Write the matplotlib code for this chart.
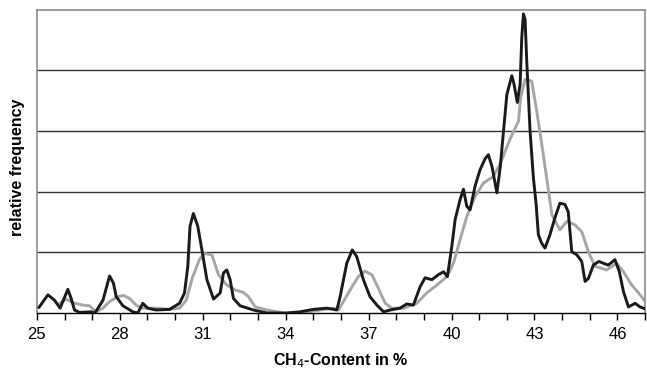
import numpy as np
import matplotlib.pyplot as plt

plt.rcParams['font.family'] = ['Liberation Sans', 'DejaVu Sans']

# black curve
black_x = [25.07, 25.4, 25.64, 25.84, 26.12, 26.24, 26.36, 26.54, 26.96, 27.1,
           27.39, 27.63, 27.77, 27.87, 28.11, 28.47, 28.65, 28.83, 29.01, 29.31,
           29.8, 30.16, 30.34, 30.46, 30.54, 30.66, 30.82, 30.97, 31.15, 31.39,
           31.63, 31.75, 31.87, 31.99, 32.11, 32.35, 32.83, 33.32, 34.04, 34.52,
           35.0, 35.49, 35.85, 35.97, 36.21, 36.41, 36.57, 36.81, 37.05, 37.3,
           37.54, 37.78, 38.14, 38.38, 38.62, 38.86, 39.04, 39.29, 39.52, 39.71,
           39.85, 40.01, 40.13, 40.31, 40.43, 40.55, 40.67, 40.85, 41.03, 41.21,
           41.33, 41.46, 41.64, 41.76, 41.88, 42.0, 42.18, 42.26, 42.38, 42.48,
           42.54, 42.6, 42.66, 42.72, 42.84, 42.96, 43.06, 43.14, 43.26, 43.38,
           43.56, 43.74, 43.92, 44.1, 44.22, 44.35, 44.53, 44.71, 44.83, 44.95,
           45.13, 45.33, 45.49, 45.67, 45.91, 46.07, 46.22, 46.4, 46.64, 46.82,
           47.0]
black_y = [0.09, 0.30, 0.21, 0.08, 0.39, 0.24, 0.05, 0.01, 0.02, 0.0,
           0.21, 0.61, 0.49, 0.27, 0.12, 0.02, 0.0, 0.16, 0.08, 0.05,
           0.06, 0.16, 0.33, 0.77, 1.43, 1.64, 1.43, 1.04, 0.55, 0.23,
           0.33, 0.66, 0.71, 0.55, 0.24, 0.12, 0.05, 0.0, 0.0, 0.02,
           0.06, 0.08, 0.05, 0.27, 0.82, 1.04, 0.93, 0.55, 0.27, 0.13,
           0.02, 0.05, 0.08, 0.15, 0.13, 0.43, 0.58, 0.55, 0.63, 0.68,
           0.60, 1.10, 1.54, 1.87, 2.04, 1.76, 1.70, 2.09, 2.36, 2.54,
           2.61, 2.42, 1.98, 2.40, 3.0, 3.60, 3.91, 3.77, 3.47, 3.77,
           4.54, 4.93, 4.84, 4.15, 3.0, 2.23, 1.79, 1.29, 1.15, 1.07,
           1.29, 1.57, 1.81, 1.79, 1.67, 1.01, 0.96, 0.85, 0.52, 0.57,
           0.79, 0.85, 0.82, 0.79, 0.88, 0.68, 0.35, 0.10, 0.16, 0.10,
           0.07]

# grey curve
grey_x = [25.82, 26.06, 26.3, 26.66, 26.9, 27.14, 27.39, 27.63, 27.93, 28.13,
          28.35, 28.59, 28.83, 29.31, 29.8, 30.16, 30.4, 30.64, 30.88, 31.06,
          31.33, 31.57, 31.87, 32.17, 32.47, 32.65, 32.9, 33.32, 33.92, 34.52,
          35.25, 35.73, 35.91, 36.33, 36.63, 36.87, 37.12, 37.35, 37.6, 37.84,
          38.14, 38.26, 38.74, 39.1, 39.47, 39.83, 40.07, 40.31, 40.55, 40.85,
          41.15, 41.51, 41.76, 42.12, 42.42, 42.5, 42.66, 42.9, 43.08, 43.32,
          43.63, 43.92, 44.17, 44.47, 44.71, 44.95, 45.19, 45.61, 45.97, 46.22,
          46.52, 46.82, 47.0]
grey_y = [0.16, 0.23, 0.17, 0.13, 0.12, 0.02, 0.08, 0.19, 0.27, 0.29,
          0.24, 0.13, 0.08, 0.08, 0.06, 0.08, 0.21, 0.60, 0.88, 0.98,
          0.96, 0.63, 0.46, 0.38, 0.34, 0.27, 0.10, 0.05, 0.0, 0.0,
          0.05, 0.08, 0.05, 0.38, 0.60, 0.69, 0.63, 0.41, 0.16, 0.08,
          0.08, 0.08, 0.16, 0.33, 0.46, 0.60, 0.82, 1.21, 1.59, 1.92,
          2.14, 2.25, 2.46, 2.87, 3.16, 3.55, 3.85, 3.82, 3.33, 2.61,
          1.62, 1.37, 1.51, 1.45, 1.34, 1.01, 0.77, 0.71, 0.82, 0.68,
          0.46, 0.30, 0.19]

tick_pos = list(range(25, 48))
tick_labels = [str(v) if (v - 25) % 3 == 0 else '' for v in tick_pos]

fig = plt.figure(figsize=(6.47, 3.70), dpi=100)
ax = fig.add_axes([0.057, 0.154, 0.940, 0.820])

ax.set_xlim(25, 47)
ax.set_ylim(0, 5)

for yv in [1, 2, 3, 4]:
    ax.axhline(yv, color='#333333', lw=1.0, zorder=1)

ax.plot(grey_x, grey_y, color='#a6a6a6', lw=2.1, zorder=2,
        solid_joinstyle='round', solid_capstyle='round')
ax.plot(black_x, black_y, color='#1a1a1a', lw=2.1, zorder=3,
        solid_joinstyle='round', solid_capstyle='round')

for s in ['top', 'left', 'right']:
    ax.spines[s].set_color('#8c8c8c')
    ax.spines[s].set_linewidth(1.2)
ax.spines['bottom'].set_color('black')
ax.spines['bottom'].set_linewidth(1.0)

ax.set_yticks([])
ax.set_xticks(tick_pos)
ax.set_xticklabels(tick_labels, fontsize=12)
ax.tick_params(axis='x', direction='out', length=5, width=1, pad=5)

ax.set_xlabel('CH$_4$-Content in %', fontsize=11.5, fontweight='bold', labelpad=7)
ax.set_ylabel('relative frequency', fontsize=11.5, fontweight='bold')
ax.yaxis.set_label_coords(-0.019, 0.48)

fig.savefig('out.png', dpi=100)
